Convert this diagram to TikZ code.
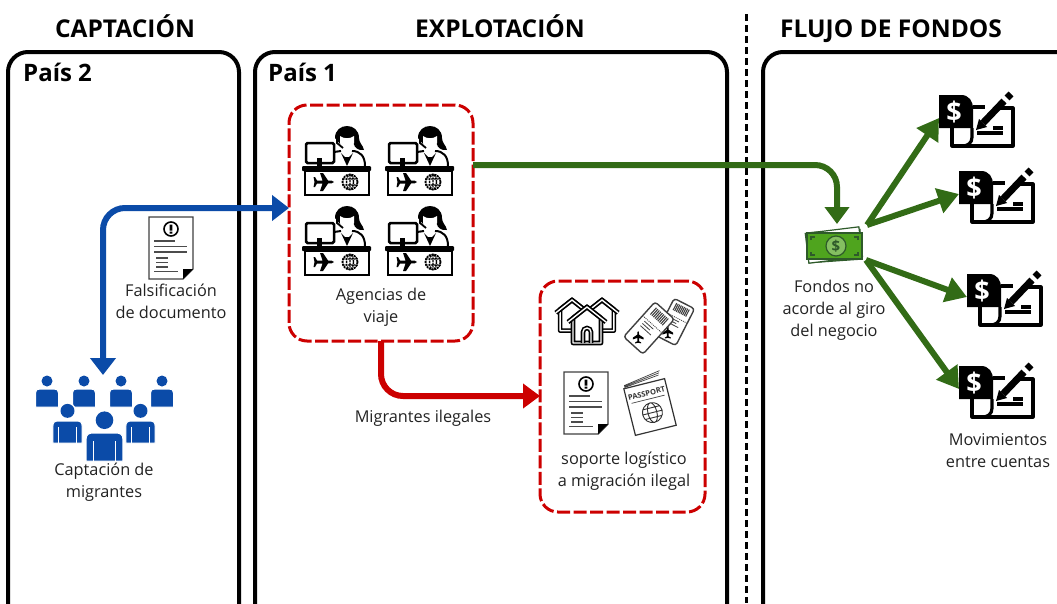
\documentclass[tikz,border=0pt]{standalone}
\usepackage{fontspec}
\usepackage{xcolor}
\usepackage{tikz}
\usetikzlibrary{arrows.meta}
\setmainfont{Open Sans}
\definecolor{bluemain}{HTML}{0B4BA8}
\definecolor{greenmain}{HTML}{326B16}
\definecolor{redmain}{HTML}{CC0000}
\definecolor{billgreen}{HTML}{4FA41E}
\definecolor{billdark}{HTML}{2E5A2A}
\definecolor{textgray}{HTML}{222222}

\begin{document}
\begin{tikzpicture}[
    x=1pt, y=-1pt,
    panel/.style={rectangle, draw, line width=4pt, rounded corners=20pt, anchor=north west, outer sep=0pt},
    redbox/.style={rectangle, draw=redmain, line width=3pt, rounded corners=18pt, dash pattern=on 13pt off 3.5pt, anchor=north west, outer sep=0pt},
    title/.style={font=\fontsize{24.5}{28}\selectfont\bfseries, text=black, anchor=base},
    country/.style={font=\fontsize{24}{28}\selectfont\bfseries, text=black, anchor=base west, inner sep=0pt},
    caption/.style={font=\fontsize{16.3}{22}\selectfont, text=textgray, align=center},
    blueflow/.style={draw=bluemain, line width=6pt, rounded corners=22pt, {Triangle[width=25pt,length=17pt]}-{Triangle[width=25pt,length=17pt]}},
    greenflow/.style={draw=greenmain, line width=6pt, rounded corners=22pt, -{Triangle[width=24pt,length=17pt]}},
    greenray/.style={draw=greenmain, line width=6pt, -{Triangle[width=25pt,length=21pt]}},
    redflow/.style={draw=redmain, line width=6pt, rounded corners=22pt, -{Triangle[width=24pt,length=17pt]}},
    plane/.pic={
        \fill (10,0) .. controls (9,-1.5) and (7,-1.5) .. (4,-1.5) -- (-1,-9) -- (-4,-9) -- (-1.5,-1.5) -- (-7,-1.5) -- (-9,-5) -- (-10.5,-5) -- (-9.5,0)
            -- (-10.5,5) -- (-9,5) -- (-7,1.5) -- (-1.5,1.5) -- (-4,9) -- (-1,9) -- (4,1.5) .. controls (7,1.5) and (9,1.5) .. (10,0) -- cycle;
    },
    agent/.pic={
        % monitor
        \draw[line width=2.5pt, rounded corners=1.5pt] (4,18) rectangle (32,38);
        \fill (15,33) rectangle (20,41);
        % operator
        \fill (33,13) .. controls (33,-3) and (57,-3) .. (57,13) .. controls (57,18) and (61,20) .. (62,25) .. controls (56,26) and (52,22) .. (52,19) -- (38,19) -- cycle;
        \fill[white] (38,11) .. controls (42,14) and (48,14) .. (52,11) -- (52,18) .. controls (50,26) and (40,26) .. (38,18) -- cycle;
        \draw[line width=1.8pt] (35,11) -- (35,18) -- (41,23);
        \draw[line width=2pt] (32,27) -- (39,26) (50,26) .. controls (58,26) and (63,31) .. (63,41);
        \fill (39,28) -- (45,41) -- (51,28) -- (47,32) -- (43,32) -- cycle;
        % desk
        \fill[rounded corners=1pt] (0,41) rectangle (69,46);
        \draw[line width=2.5pt] (3,46) rectangle (67,70);
        \pic at (22,57) {plane};
        % globe
        \draw[line width=1.8pt, dash pattern=on 2pt off .8pt] (48,57) circle (7.5);
        \draw[line width=1.4pt, dash pattern=on 2pt off .8pt] (48,57) ellipse (3.5 and 7.5) (40.5,54) -- (55.5,54) (40.5,60) -- (55.5,60) (48,49.5) -- (48,64.5);
    },
    person/.pic={
        \fill[bluemain] (0,-8) circle (5.5);
        \filldraw[fill=bluemain, draw=white, line width=1pt] (-11.5,18) -- (-11.5,4) .. controls (-11.5,1) and (-10,0) .. (-7,0) -- (7,0) .. controls (10,0) and (11.5,1) .. (11.5,4) -- (11.5,18) -- cycle;
    },
    personlegs/.pic={
        \filldraw[fill=white, draw=white] (0,-8) circle (6.5);
        \fill[bluemain] (0,-8) circle (5.5);
        \filldraw[fill=bluemain, draw=white, line width=1pt] (-11.5,17.5) -- (-11.5,4) .. controls (-11.5,1) and (-10,0) .. (-7,0) -- (7,0) .. controls (10,0) and (11.5,1) .. (11.5,4) -- (11.5,17.5) -- cycle;
        \draw[white, line width=1.5pt] (-7,5) -- (-7,18) (7,5) -- (7,18);
    },
    document/.pic={
        \filldraw[fill=white, draw=black!75, line width=1.4pt] (0,0) -- (44,0) -- (44,52) -- (34,62) -- (0,62) -- cycle;
        \fill (44,52) -- (34,62) -- (34,52) -- cycle;
        \draw[line width=1.6pt] (22,12) circle (7);
        \fill (20.6,7.5) rectangle (23.4,13.5) (20.6,14.5) rectangle (23.4,16.5);
        \draw[black!70, line width=1.3pt] (5,24) -- (26,24) (5,29.5) -- (38,29.5) (5,35) -- (38,35) (7,41) -- (19,41) (7,45.5) -- (19,45.5) (7,50) -- (19,50) (5,54.5) -- (29,54.5);
    },
    house/.pic={
        \filldraw[fill=white, line width=1.6pt, double=white, double distance=1.4pt, line join=round] (-14,11) -- (-14,36) -- (14,36) -- (14,11) -- (0,0) -- cycle;
        \draw[line width=1.6pt, double=white, double distance=1.4pt] (-19,15) -- (0,0) -- (19,15);
    },
    housedoor/.pic={
        \draw[line width=1.6pt, double=white, double distance=1.4pt] (-4,36) -- (-4,25) arc (180:360:4) -- (4,36);
    },
    ticket/.pic={
        \filldraw[fill=white, draw=black!75, line width=1.4pt, rounded corners=3pt] (-13,-23.5) rectangle (13,23.5);
        \draw[black!75, line width=.8pt, dash pattern=on 1pt off 1pt] (-13,-5) -- (13,-5);
        \foreach \barpos in {-8,-6,...,8} {
            \draw[black!75, line width=1.1pt] (\barpos,-20) -- (\barpos,-11);
        }
        \draw[black!75, line width=.8pt] (-8,-2) -- (4,-2) (-8,1) -- (2,1) (-8,4) -- (6,4);
        \pic[rotate=90, scale=.6] at (-2,14) {plane};
    },
    passport/.pic={
        \draw[black!75, line width=.7pt] (-20,-25) -- (16,-29) (-20,-26) -- (17,-31) (-20,-27) -- (18,-33);
        \filldraw[fill=white, draw=black!80, line width=1.2pt] (-21,-24) -- (21,-24) -- (21,24) -- (-21,24) -- cycle;
        \node[font=\fontsize{7.5}{8}\selectfont\bfseries, transform shape, text=black!80, inner sep=0pt] (cover) at (0,-14) {PASSPORT};
        \draw[black!75, line width=.7pt] (-17,-8) -- (17,-8);
        \draw[black!80, line width=.9pt] (1,6) circle (10) (1,6) ellipse (4.5 and 10) (-9,6) -- (11,6) (-8,1) -- (10,1) (-8,11) -- (10,11);
    },
    check/.pic={
        \coordinate (tip) at (0,23);
        \fill (0,0) -- (22,0) .. controls (30,0) and (34,6) .. (34,14) -- (34,33) -- (0,33) -- cycle;
        \node[font=\fontsize{27}{28}\selectfont\bfseries, text=white, inner sep=0pt] (sign) at (15,17) {\$};
        \draw[line width=3.2pt, line join=round] (13,33) -- (13,51) -- (74,51) -- (74,13) -- (58,13);
        \draw[line width=3.2pt] (34,12) -- (46,12);
        \draw[line width=3.2pt] (33,33) -- (33,42) .. controls (33,48) and (29,51) .. (23,51);
        \draw[line width=3.2pt] (38,38) -- (64,38);
        \draw[line width=3.2pt] (54,33) -- (64,33);
        % pen
        \fill (37,35) -- (40,24) -- (48,32) -- cycle;
        \draw[line width=7pt] (44,28) -- (65,6);
        \draw[line width=7pt] (68,3) -- (72,-1);
    },
    bill/.pic={
        \coordinate (top) at (3,-22);
        \coordinate (outup) at (33,-21);
        \coordinate (outdown) at (32,14);
        \filldraw[fill=billgreen, draw=billdark, line width=1.2pt, rotate=4] (-26,-15) rectangle (27,15);
        \filldraw[fill=white, draw=billdark, line width=1.2pt, rotate=7] (-27,-16) rectangle (27,14);
        \filldraw[fill=billgreen, draw=billdark, line width=1.2pt] (-27,-13) rectangle (28,13);
        \draw[billdark, line width=1.2pt] (-23,-6) -- (-23,-9) -- (-19,-9) (24,-6) -- (24,-9) -- (20,-9) (-23,6) -- (-23,9) -- (-19,9) (24,6) -- (24,9) -- (20,9);
        \filldraw[fill=billgreen!70!white, draw=billdark, line width=1.2pt] (2,0) circle (10);
        \node[font=\fontsize{15}{15}\selectfont\bfseries, text=billdark, inner sep=0pt] (sign) at (2,0) {\$};
    }
]
    \clip (0,0) rectangle (1057,603);

    % Titles
    \node[title] (captitle) at (125,37) {CAPTACIÓN};
    \node[title] (exptitle) at (500,37) {EXPLOTACIÓN};
    \node[title] (flowtitle) at (891,37) {FLUJO DE FONDOS};

    % Panels
    \node[panel, minimum width=231pt, minimum height=600pt] (left) at (8,52) {};
    \node[panel, minimum width=472pt, minimum height=600pt] (middle) at (255,52) {};
    \node[panel, minimum width=340pt, minimum height=600pt] (right) at (763,52) {};
    \node[country] (pais2) at (23,81) {País 2};
    \node[country] (pais1) at (268,81) {País 1};

    % Divider
    \coordinate (dividertop) at (746,14);
    \coordinate (dividerbottom) at (746,603);
    \draw[line width=3pt, dash pattern=on 7pt off 4pt] (dividertop) -- (dividerbottom);

    % Boxes
    \node[redbox, minimum width=184pt, minimum height=236pt] (agencies) at (289,105) {};
    \node[redbox, minimum width=165pt, minimum height=231pt] (support) at (540,281) {};

    % Agencies
    \pic at (302,125) {agent};
    \pic at (385,125) {agent};
    \pic at (302,205) {agent};
    \pic at (385,205) {agent};
    \node[caption] (agenciestext) at (381,307) {Agencias de\\viaje};

    % Support
    \pic[scale=.85] at (572,300) {house};
    \pic[scale=.85] at (602,300) {house};
    \pic at (587,307) {house};
    \pic at (587,307) {housedoor};
    \pic[rotate=-27, scale=.88] at (675,322) {ticket};
    \pic[rotate=-42] at (649,328) {ticket};
    \pic at (564,372) {document};
    \pic[rotate=14] at (650,407) {passport};
    \node[caption] (supporttext) at (624,471) {soporte logístico\\a migración ilegal};

    % Recruitment
    \pic at (149,217) {document};
    \node[caption] (falsetext) at (171,301) {Falsificación\\de documento};
    \pic at (47,389) {person};
    \pic at (84,389) {person};
    \pic at (121,389) {person};
    \pic at (162,389) {person};
    \pic[scale=1.27] at (67.5,421) {personlegs};
    \pic[scale=1.27] at (140.5,421) {personlegs};
    \pic[scale=1.6] at (104.5,433) {personlegs};
    \node[caption] (crowdtext) at (104,482) {Captación de\\migrantes};

    % Funds
    \pic (money) at (834,246) {bill};
    \pic (checkA) at (939,95) {check};
    \pic (checkB) at (959,171) {check};
    \pic (checkC) at (967,274) {check};
    \pic (checkD) at (959,366) {check};
    \node[caption] (moneytext) at (834,310) {Fondos no\\acorde al giro\\del negocio};
    \node[caption] (checktext) at (998,451) {Movimientos\\entre cuentas};

    % Arrows
    \coordinate (crowdtop) at (103,375);
    \coordinate (agenciesin) at (289,208);
    \coordinate (agenciesout) at (473,165);
    \coordinate (agenciesdown) at (381,341);
    \coordinate (supportin) at (540,396);
    \draw[blueflow] (crowdtop) |- (agenciesin);
    \draw[greenflow] (agenciesout) -| (moneytop);
    \draw[redflow] (agenciesdown) |- (supportin);
    \node[caption] (illegaltext) at (423,418) {Migrantes ilegales};
    \draw[greenray] (moneyoutup) -- (checkAtip);
    \draw[greenray] (moneyoutup) -- (checkBtip);
    \draw[greenray] (moneyoutdown) -- (checkCtip);
    \draw[greenray] (moneyoutdown) -- (checkDtip);
\end{tikzpicture}
\end{document}
